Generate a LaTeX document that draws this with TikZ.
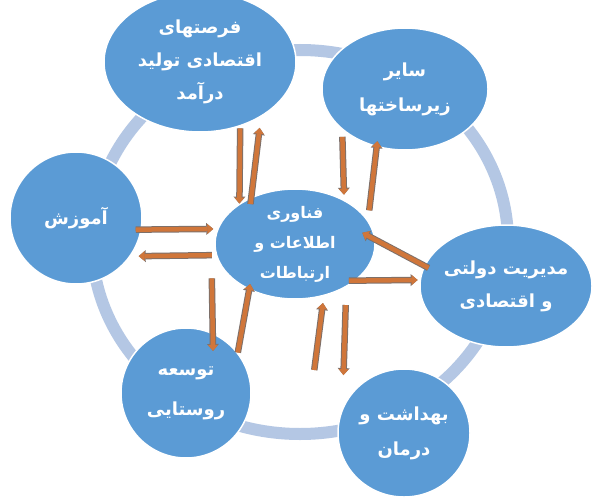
\documentclass[tikz,border=0pt]{standalone}
\usepackage{fontspec}
\usetikzlibrary{arrows.meta}
\usetikzlibrary{shapes.geometric}
\newfontfamily\farsi[Script=Arabic]{DejaVu Sans}
\TeXXeTstate=1
\definecolor{nodeblue}{RGB}{91,155,213}
\definecolor{ringblue}{RGB}{180,199,228}
\definecolor{arrowfill}{RGB}{208,118,58}
\definecolor{arrowedge}{RGB}{125,112,106}
\tikzset{blob/.style = {ellipse, fill=nodeblue, draw=white, line width=1.5pt, inner sep=0pt}}
\tikzset{txt/.style = {text=white, align=center, inner sep=0pt,
                       font=\farsi\bfseries\fontsize{18}{33}\selectfont}}
\tikzset{link/.style = {draw=arrowfill, line width=4.5pt, -{Triangle[length=6pt,width=9.5pt]},
                        preaction={draw=arrowedge, line width=6.5pt, -{Triangle[length=7pt,width=11.5pt]}}}}

\begin{document}
\begin{tikzpicture}[x=1pt, y=-1pt]
    \useasboundingbox [fill=white] (0, 0) rectangle (593, 497);

    % ring behind everything
    \draw [ringblue, line width=12pt] (300, 242) ellipse [x radius=208, y radius=192];

    \node [blob, minimum width=192pt, minimum height=140pt,
           label={[txt]center:{\beginR فرصتهای\endR\\\beginR اقتصادی تولید\endR\\\beginR درآمد\endR}}] (tl) at (200, 62) {};
    \node [blob, minimum width=166pt, minimum height=122pt,
           label={[txt, font=\farsi\bfseries\fontsize{18}{35}\selectfont]center:{\beginR سایر\endR\\\beginR زیرساختها\endR}}] (tr) at (405, 89) {};
    \node [blob, minimum width=132pt, minimum height=132pt,
           label={[txt]center:{\beginR آموزش\endR}}] (ed) at (76, 218) {};
    \node [blob, minimum width=160pt, minimum height=110pt,
           label={[txt, font=\farsi\bfseries\fontsize{16}{30}\selectfont]center:{\beginR فناوری\endR\\\beginR اطلاعات و\endR\\\beginR ارتباطات\endR}}] (it) at (295, 244) {};
    \node [blob, minimum width=172pt, minimum height=122pt,
           label={[txt]center:{\beginR مدیریت دولتی\endR\\\beginR و اقتصادی\endR}}] (md) at (506, 286) {};
    \node [blob, minimum width=130pt, minimum height=130pt,
           label={[txt, font=\farsi\bfseries\fontsize{18}{40}\selectfont]center:{\beginR توسعه\endR\\\beginR روستایی\endR}}] (rd) at (186, 393) {};
    \node [blob, minimum width=132pt, minimum height=128pt,
           label={[txt, font=\farsi\bfseries\fontsize{18}{35}\selectfont]center:{\beginR بهداشت و\endR\\\beginR درمان\endR}}] (hc) at (404, 433) {};

    % top left
    \draw [link, shorten <=2pt] (tl.-58) -- (it.144);
    \draw [link, shorten <=-7pt, shorten >=11pt] (it.133) -- (tl.-42);
    % top right
    \draw [link, shorten <=7pt, shorten >=5pt] (tr.213) -- (it.42.5);
    \draw [link, shorten <=10pt, shorten >=-6pt] (it.18.4) -- (tr.-116);
    % left
    \draw [link, shorten <=-6pt, shorten >=4pt] (ed.-10.5) -- (it.169.7);
    \draw [link, shorten <=4pt, shorten >=8pt] (it.188.7) -- (ed.-35);
    % right
    \draw [link, shorten <=-5pt, shorten >=-15pt] (md.166) -- (it.3.4);
    \draw [link, shorten <=-7pt, shorten >=2pt] (it.-31) -- (md.176);
    % bottom left
    \draw [link, shorten >=-18pt] ([xshift=-6pt, yshift=-18pt]it.192) -- (rd.66);
    \draw [link, shorten >=-6pt] (rd.38) -- (it.225);
    % bottom right
    \draw [link, shorten >=7pt] ([xshift=-23pt, yshift=63pt]hc.west) -- (it.-61.5);
    \draw [link, shorten <=18pt, shorten >=33pt] (it.-40.7) -- (hc.158);
\end{tikzpicture}
\end{document}
